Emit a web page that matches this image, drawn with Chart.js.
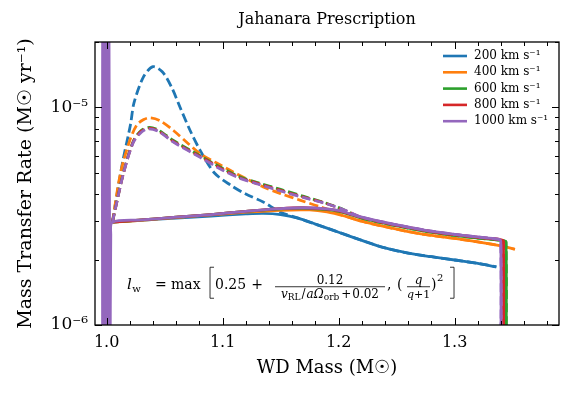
<!DOCTYPE html>
<html>
<head>
<meta charset="utf-8">
<script src="https://cdn.jsdelivr.net/npm/chart.js@4.4.0/dist/chart.umd.min.js"></script>
<style>
  html, body { margin: 0; padding: 0; background: #fff; }
</style>
</head>
<body>
<canvas id="rateChart" width="575" height="395"></canvas>
<script>
// rates below are in units of 1e-6 Msun/yr
const RATE_UNIT = 1e-6;

const LABELS = ['200 km s⁻¹', '400 km s⁻¹', '600 km s⁻¹', '800 km s⁻¹', '1000 km s⁻¹'];
const COLORS = ['#1f77b4', '#ff7f0e', '#2ca02c', '#d62728', '#9467bd'];

// solid tracks
const mass200  = [1.005, 1.03, 1.06, 1.09, 1.12, 1.135, 1.15, 1.165, 1.18, 1.20, 1.22, 1.24, 1.26, 1.28, 1.30, 1.32, 1.336];
const rate200  = [2.97, 3.03, 3.10, 3.17, 3.24, 3.26, 3.22, 3.10, 2.91, 2.67, 2.45, 2.26, 2.14, 2.06, 1.99, 1.92, 1.85];
const mass400  = [1.005, 1.03, 1.06, 1.09, 1.12, 1.15, 1.175, 1.19, 1.205, 1.22, 1.24, 1.26, 1.28, 1.30, 1.32, 1.34, 1.352];
const rate400  = [2.97, 3.03, 3.12, 3.21, 3.30, 3.37, 3.38, 3.31, 3.17, 3.00, 2.83, 2.69, 2.58, 2.50, 2.41, 2.31, 2.23];
const mass600  = [1.005, 1.03, 1.06, 1.09, 1.12, 1.15, 1.17, 1.19, 1.20, 1.22, 1.24, 1.26, 1.28, 1.30, 1.32, 1.3418, 1.3443, 1.3443];
const rate600  = [2.97, 3.04, 3.13, 3.22, 3.33, 3.42, 3.44, 3.39, 3.33, 3.10, 2.93, 2.79, 2.67, 2.58, 2.51, 2.44, 2.40, 0.5];
const mass800  = [1.005, 1.03, 1.06, 1.09, 1.12, 1.15, 1.17, 1.19, 1.20, 1.22, 1.24, 1.26, 1.28, 1.30, 1.32, 1.3396, 1.3420, 1.3420];
const rate800  = [2.97, 3.04, 3.13, 3.22, 3.33, 3.43, 3.46, 3.41, 3.35, 3.12, 2.95, 2.81, 2.69, 2.60, 2.53, 2.47, 2.43, 0.5];
const mass1000 = [1.005, 1.03, 1.06, 1.09, 1.12, 1.15, 1.17, 1.19, 1.20, 1.22, 1.24, 1.26, 1.28, 1.30, 1.32, 1.3374, 1.3398, 1.3398];
const rate1000 = [2.97, 3.04, 3.13, 3.22, 3.33, 3.43, 3.46, 3.42, 3.36, 3.13, 2.96, 2.82, 2.70, 2.61, 2.54, 2.48, 2.42, 0.5];

// spike at the very start of the 1000 km/s track
const spikeMass = [0.9966, 0.9966, 0.9984, 0.9984, 1.0002, 1.0002, 1.0020, 1.0020, 1.0030, 1.0036];
const spikeRate = [30, 0.5, 0.5, 30, 30, 0.5, 0.5, 30, 0.5, 2.6];

// dashed tracks: early peak, they rejoin the solid track afterwards
const peakMass200  = [1.005, 1.0135, 1.0207, 1.0236, 1.032, 1.040, 1.048, 1.056, 1.0634, 1.072, 1.081, 1.093, 1.107, 1.12, 1.135, 1.15];
const peakRate200  = [2.97, 5.5, 8.4, 10.5, 13.9, 15.4, 14.6, 12.4, 10.0, 7.84, 6.3, 5.0, 4.39, 4.0, 3.68, 3.3];
const peakMass400  = [1.005, 1.012, 1.020, 1.026, 1.032, 1.0376, 1.046, 1.0576, 1.07, 1.0806, 1.095, 1.1065, 1.12, 1.135, 1.15, 1.1666, 1.185, 1.20];
const peakRate400  = [2.97, 5.0, 7.06, 8.3, 8.8, 8.97, 8.7, 7.84, 6.85, 6.13, 5.55, 5.14, 4.72, 4.31, 4.02, 3.75, 3.48, 3.24];
const peakMass600  = [1.005, 1.0145, 1.023, 1.030, 1.037, 1.045, 1.0576, 1.0806, 1.10, 1.115, 1.13, 1.15, 1.17, 1.19, 1.205];
const peakRate600  = [2.97, 5.0, 7.0, 7.85, 8.1, 7.85, 7.05, 6.0, 5.25, 4.8, 4.52, 4.2, 3.9, 3.62, 3.38];
const peakMass800  = [1.005, 1.0145, 1.023, 1.030, 1.037, 1.045, 1.0576, 1.0806, 1.10, 1.115, 1.13, 1.15, 1.17, 1.19, 1.205];
const peakRate800  = [2.97, 4.98, 6.95, 7.78, 8.03, 7.78, 6.98, 5.95, 5.2, 4.75, 4.48, 4.16, 3.87, 3.61, 3.37];
const peakMass1000 = [1.005, 1.0145, 1.023, 1.030, 1.036, 1.045, 1.0576, 1.0806, 1.10, 1.115, 1.13, 1.15, 1.17, 1.19, 1.205];
const peakRate1000 = [2.97, 4.96, 6.9, 7.7, 7.98, 7.75, 6.93, 5.9, 5.15, 4.72, 4.45, 4.13, 3.85, 3.6, 3.38];

const X_TICKS = [1.0, 1.1, 1.2, 1.3];
const Y_TICKS = [1e-6, 1e-5];

const SERIF = "'DejaVu Serif', 'Liberation Serif', serif";


function toPoints(ms, rs) {
  return ms.map((m, i) => ({ x: m, y: rs[i] * RATE_UNIT }));
}

function dashedPoints(pm, pr, sm, sr) {
  const last = pm[pm.length - 1];
  const tailM = sm.filter(m => m > last);
  const tailR = sr.filter((r, i) => sm[i] > last);
  return toPoints(pm.concat(tailM), pr.concat(tailR));
}

const solids = [
  toPoints(mass200, rate200),
  toPoints(mass400, rate400),
  toPoints(mass600, rate600),
  toPoints(mass800, rate800),
  toPoints(spikeMass.concat(mass1000), spikeRate.concat(rate1000)),
];
const dashes = [
  dashedPoints(peakMass200, peakRate200, mass200, rate200),
  dashedPoints(peakMass400, peakRate400, mass400, rate400),
  dashedPoints(peakMass600, peakRate600, mass600, rate600),
  dashedPoints(peakMass800, peakRate800, mass800, rate800),
  dashedPoints(peakMass1000, peakRate1000, mass1000, rate1000),
];

const datasets = [];
let ord = 100;
LABELS.forEach((lab, i) => {
  datasets.push({
    label: lab, data: solids[i], borderColor: COLORS[i], borderWidth: 2.8,
    pointRadius: 0, tension: 0.3, fill: false, order: ord--, borderDash: [],
  });
  datasets.push({
    label: lab + ' (dashed)', data: dashes[i], borderColor: COLORS[i], borderWidth: 2.8,
    pointRadius: 0, tension: 0.3, fill: false, order: ord--, borderDash: [9, 4],
  });
});


// inward ticks on all four sides + black frame
const frameTicks = {
  id: 'frameTicks',
  afterDatasetsDraw(chart) {
    const { ctx, chartArea: a, scales: { x, y } } = chart;
    ctx.save();
    ctx.strokeStyle = '#000';
    ctx.lineWidth = 1;
    const seg = (x1, y1, x2, y2) => {
      ctx.beginPath(); ctx.moveTo(x1, y1); ctx.lineTo(x2, y2); ctx.stroke();
    };
    const xTick = (v, len) => {
      const p = Math.round(x.getPixelForValue(v)) + 0.5;
      seg(p, a.bottom, p, a.bottom - len);
      seg(p, a.top, p, a.top + len);
    };
    const yTick = (v, len) => {
      const p = Math.round(y.getPixelForValue(v)) + 0.5;
      seg(a.left, p, a.left + len, p);
      seg(a.right, p, a.right - len, p);
    };
    for (let k = 50; k <= 69; k++) {
      const v = k * 0.02;
      if (v < x.min || v > x.max) continue;
      xTick(v, k % 5 === 0 ? 7 : 4);
    }
    for (let e = -6; e <= -5; e++) {
      for (let m = 1; m <= 9; m++) {
        const v = m * Math.pow(10, e);
        if (v < y.min * 0.999 || v > y.max * 1.001) continue;
        yTick(v, m === 1 ? 7 : 4);
      }
    }
    ctx.lineWidth = 1.3;
    ctx.strokeRect(a.left, a.top, a.right - a.left, a.bottom - a.top);
    ctx.restore();
  }
};

// legend in the upper right, solid tracks only
const cornerLegend = {
  id: 'cornerLegend',
  afterDraw(chart) {
    const { ctx, chartArea: a } = chart;
    const items = chart.data.datasets.filter(d => d.borderDash.length === 0);
    ctx.save();
    ctx.font = '12px ' + SERIF;
    ctx.textBaseline = 'middle';
    ctx.fillStyle = '#000';
    items.forEach((d, i) => {
      const yy = a.top + 14 + i * 16.3;
      ctx.strokeStyle = d.borderColor;
      ctx.lineWidth = 2.6;
      ctx.beginPath(); ctx.moveTo(a.right - 116, yy); ctx.lineTo(a.right - 92, yy); ctx.stroke();
      ctx.fillText(d.label, a.right - 85, yy);
    });
    ctx.restore();
  }
};

// formula annotation, anchored at a data position
const ANNOT_MASS = 1.0176;
const ANNOT_RATE = 1.46e-6;
const formulaNote = {
  id: 'formulaNote',
  afterDraw(chart) {
    const { ctx, scales: { x, y } } = chart;
    const x0 = x.getPixelForValue(ANNOT_MASS);
    const b = y.getPixelForValue(ANNOT_RATE);
    const it = s => 'italic ' + s + 'px ' + SERIF;
    const rm = s => s + 'px ' + SERIF;
    const put = (t, f, xx, yy, align) => {
      ctx.font = f; ctx.textAlign = align || 'left'; ctx.fillText(t, xx, yy);
      return xx + ctx.measureText(t).width;
    };
    const runWidth = parts => parts.reduce((w, p) => {
      if (typeof p === 'number') return w + p;
      ctx.font = p[1]; return w + ctx.measureText(p[0]).width;
    }, 0);
    const run = (parts, xx, yy) => {
      parts.forEach(p => {
        if (typeof p === 'number') { xx += p; return; }
        xx = put(p[0], p[1], xx, yy + (p[2] || 0));
      });
      return xx;
    };
    const bar = (xa, xb, yy) => {
      ctx.beginPath(); ctx.moveTo(xa, yy); ctx.lineTo(xb, yy); ctx.stroke();
    };
    const bracket = (xx, dir) => {
      ctx.beginPath();
      ctx.moveTo(xx + 4 * dir, b - 22); ctx.lineTo(xx, b - 22);
      ctx.lineTo(xx, b + 9); ctx.lineTo(xx + 4 * dir, b + 9);
      ctx.stroke();
    };

    ctx.save();
    ctx.fillStyle = '#000';
    ctx.strokeStyle = '#000';
    ctx.lineWidth = 0.8;
    ctx.textBaseline = 'alphabetic';

    let cx = put('l', it(15), x0, b);
    put('w', rm(10), cx + 0.5, b + 3);
    put('=', rm(14), x0 + 28, b);
    put('max', rm(14), x0 + 44, b);
    bracket(x0 + 83, 1);
    cx = put('0.25', rm(14), x0 + 88, b);
    put('+', rm(14), cx + 5, b);

    // 0.12 / (v_RL / a Omega_orb + 0.02)
    const fa = x0 + 148, fb = x0 + 258, fy = b - 2.5;
    bar(fa, fb, fy);
    put('0.12', rm(12), (fa + fb) / 2, fy - 3, 'center');
    const den = [
      ['v', it(12)], ['RL', rm(9), 2], 1, ['/', rm(12)], 1, ['a', it(12)], ['Ω', it(12)],
      ['orb', rm(9), 2], 2, ['+', rm(12)], 1, ['0.02', rm(12)]
    ];
    const dw = runWidth(den);
    ctx.textAlign = 'left';
    run(den, (fa + fb) / 2 - dw / 2, fy + 11);

    put(',', rm(14), fb + 2, b);
    put('(', rm(14), x0 + 270, b);
    const qa = x0 + 280, qb = x0 + 303;
    bar(qa, qb, fy);
    put('q', it(12), (qa + qb) / 2, fy - 3, 'center');
    const qd = [['q', it(11)], ['+', rm(11)], ['1', rm(11)]];
    const qw = runWidth(qd);
    ctx.textAlign = 'left';
    run(qd, (qa + qb) / 2 - qw / 2, fy + 11);
    put(')', rm(14), x0 + 304, b);
    put('2', rm(10), x0 + 310, b - 8);
    bracket(x0 + 327, -1);
    ctx.restore();
  }
};

const supDigits = { '-': '⁻', '0': '⁰', '1': '¹', '2': '²', '3': '³', '4': '⁴', '5': '⁵', '6': '⁶', '7': '⁷', '8': '⁸', '9': '⁹' };
function powLabel(v) {
  const e = String(Math.round(Math.log10(v)));
  return '10' + e.split('').map(c => supDigits[c]).join('');
}

const ctx = document.getElementById('rateChart').getContext('2d');
new Chart(ctx, {
  type: 'line',
  data: { datasets },
  options: {
    responsive: false,
    animation: false,
    devicePixelRatio: 1,
    layout: { padding: { top: 0, right: 16, bottom: 0, left: 0 } },
    plugins: {
      legend: { display: false },
      tooltip: { enabled: false },
      title: {
        display: true,
        text: 'Jahanara Prescription',
        color: '#000',
        fullSize: false,
        font: { family: SERIF, size: 16, weight: 'normal', lineHeight: 1.2 },
        padding: { top: 10.4, bottom: 12.4 },
      },
    },
    scales: {
      x: {
        type: 'linear',
        min: 0.99,
        max: 1.39,
        grid: { display: false, drawTicks: false },
        border: { display: false },
        afterBuildTicks: s => { s.ticks = X_TICKS.map(v => ({ value: v })); },
        afterFit: s => { s.height = 70; },
        ticks: {
          autoSkip: false, maxRotation: 0, padding: 8, color: '#000',
          font: { family: SERIF, size: 16 },
          callback: v => Number(v).toFixed(1),
        },
        title: {
          display: true, text: 'WD Mass (M☉)', color: '#000',
          font: { family: SERIF, size: 18 }, padding: { top: 0, bottom: 16 },
        },
      },
      y: {
        type: 'logarithmic',
        min: 1e-6,
        max: 2e-5,
        grid: { display: false, drawTicks: false },
        border: { display: false },
        afterBuildTicks: s => { s.ticks = Y_TICKS.map(v => ({ value: v })); },
        afterFit: s => { s.width = 95; },
        ticks: {
          autoSkip: false, padding: 7, color: '#000',
          font: { family: SERIF, size: 17 },
          callback: v => powLabel(v),
        },
        title: {
          display: true, text: 'Mass Transfer Rate (M☉ yr⁻¹)', color: '#000',
          font: { family: SERIF, size: 19 }, padding: { top: 15, bottom: 0 },
        },
      },
    },
  },
  plugins: [frameTicks, cornerLegend, formulaNote],
});
</script>
</body>
</html>
